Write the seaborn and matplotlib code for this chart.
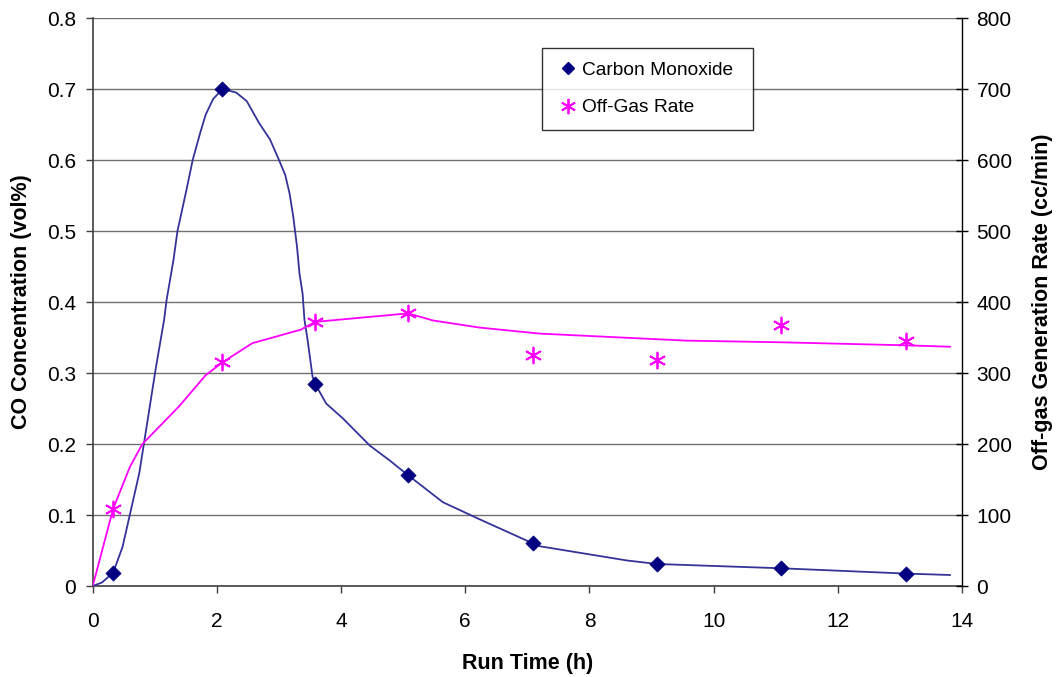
import matplotlib
matplotlib.use("Agg")
import matplotlib.pyplot as plt
from matplotlib.lines import Line2D
import seaborn as sns
import pandas as pd

# Sampled run times (h) and measurements
run_time = [0.33, 2.09, 3.58, 5.08, 7.09, 9.09, 11.08, 13.1]
co_conc = [0.019, 0.70, 0.285, 0.156, 0.060, 0.031, 0.025, 0.0175]
offgas_rate = [109, 315, 372, 384, 325, 319, 367, 345]

# Smoothed trend curve for CO concentration
co_curve_t = [0, 0.15, 0.33, 0.48, 0.75, 1.02, 1.15, 1.19, 1.30, 1.365, 1.51, 1.61, 1.73,
              1.82, 1.94, 2.09, 2.31, 2.48, 2.68, 2.855, 3.0, 3.10, 3.17, 3.23, 3.29, 3.33,
              3.38, 3.41, 3.46, 3.54, 3.58, 3.76, 4.03, 4.46, 4.78, 5.08, 5.64, 6.23, 7.09,
              7.2, 8.6, 9.09, 11.08, 13.1, 13.81]
co_curve_v = [0, 0.005, 0.019, 0.055, 0.159, 0.309, 0.375, 0.403, 0.459, 0.5, 0.558, 0.6, 0.638,
              0.664, 0.686, 0.70, 0.695, 0.683, 0.652, 0.629, 0.60, 0.579, 0.553, 0.52, 0.478, 0.44,
              0.412, 0.375, 0.347, 0.295, 0.285, 0.257, 0.236, 0.198, 0.177, 0.156, 0.118, 0.094, 0.060,
              0.056, 0.036, 0.031, 0.025, 0.0175, 0.0155]

# Smoothed trend curve for off-gas generation rate
gas_curve_t = [0, 0.33, 0.6, 0.8, 1.39, 1.82, 2.09, 2.57, 3.35, 3.58, 5.08, 5.48,
               6.23, 7.2, 9.56, 11.07, 13.1, 13.81]
gas_curve_v = [0, 109, 168, 200, 253, 297, 315, 342, 361, 372, 384, 374,
               364, 355.5, 345.6, 343.3, 339, 337]

x_ticks = [0, 2, 4, 6, 8, 10, 12, 14]
left_ticks = [0, 0.1, 0.2, 0.3, 0.4, 0.5, 0.6, 0.7, 0.8]
right_ticks = [0, 100, 200, 300, 400, 500, 600, 700, 800]

CO_LINE = "#333399"
CO_MARK = "#000080"
GAS = "#FF00FF"

sns.set_style("white")
plt.rcParams["font.family"] = ["Liberation Sans", "DejaVu Sans"]
plt.rcParams["text.color"] = "black"
plt.rcParams["axes.labelcolor"] = "black"

fig = plt.figure(figsize=(10.56, 6.77), dpi=100)
ax = fig.add_axes([0.0878, 0.1344, 0.9110 - 0.0878, 0.9734 - 0.1344])
ax2 = ax.twinx()

co_pts = pd.DataFrame({"t": run_time, "v": co_conc})
co_line = pd.DataFrame({"t": co_curve_t, "v": co_curve_v})
gas_pts = pd.DataFrame({"t": run_time, "v": offgas_rate})
gas_line = pd.DataFrame({"t": gas_curve_t, "v": gas_curve_v})

sns.lineplot(data=co_line, x="t", y="v", ax=ax, sort=False, estimator=None,
             color=CO_LINE, linewidth=1.3, zorder=3)
sns.scatterplot(data=co_pts, x="t", y="v", ax=ax, marker="D", s=60,
                color=CO_MARK, edgecolor=CO_MARK, linewidth=0.5, zorder=4)

sns.lineplot(data=gas_line, x="t", y="v", ax=ax2, sort=False, estimator=None,
             color=GAS, linewidth=1.3, zorder=3)
sns.scatterplot(data=gas_pts, x="t", y="v", ax=ax2, marker=(6, 2, 0), s=130,
                color=GAS, edgecolor=GAS, linewidth=1.3, zorder=4)

ax.set_xlim(0, 14)
ax.set_ylim(0, 0.8)
ax2.set_ylim(0, 800)
ax.set_xticks(x_ticks)
ax.set_xticklabels([str(v) for v in x_ticks])
ax.set_yticks(left_ticks)
ax.set_yticklabels(["0"] + [f"{v:.1f}" for v in left_ticks[1:]])
ax2.set_yticks(right_ticks)
ax2.set_yticklabels([str(v) for v in right_ticks])

ax.yaxis.grid(True, color="#707070", linewidth=1.0)
ax.xaxis.grid(False)
ax.set_axisbelow(True)

for a in (ax, ax2):
    a.spines["top"].set_visible(False)
ax.spines["right"].set_visible(False)
ax.spines["left"].set_color("#404040")
ax.spines["bottom"].set_color("#404040")
ax.spines["left"].set_linewidth(1.2)
ax.spines["bottom"].set_linewidth(1.2)
ax2.spines["left"].set_visible(False)
ax2.spines["bottom"].set_visible(False)
ax2.spines["right"].set_color("#000000")
ax2.spines["right"].set_linewidth(1.0)

ax.tick_params(axis="x", direction="out", length=5, width=1, color="#404040",
               labelsize=15, labelcolor="black", pad=14, bottom=True)
ax.tick_params(axis="y", direction="out", length=5, width=1, color="#404040",
               labelsize=15, labelcolor="black", pad=7, left=True)
ax2.tick_params(axis="y", direction="inout", length=9, width=1, color="#000000",
                labelsize=15, labelcolor="black", pad=6, right=True)

ax.set_xlabel("Run Time (h)", fontsize=15.5, fontweight="bold", color="black")
ax.set_ylabel("CO Concentration (vol%)", fontsize=15.5, fontweight="bold", color="black")
ax2.set_ylabel("Off-gas Generation Rate (cc/min)", fontsize=15.5, fontweight="bold",
               color="black")
ax.xaxis.set_label_coords(0.5, -0.118)
ax.yaxis.set_label_coords(-0.0698, 0.5)
ax2.yaxis.set_label_coords(1.0806, 0.5)

handles = [
    Line2D([], [], linestyle="none", marker="D", markersize=6.5,
           color=CO_MARK, label="Carbon Monoxide"),
    Line2D([], [], linestyle="none", marker=(6, 2, 0), markersize=11,
           markeredgewidth=1.3, color=GAS, label="Off-Gas Rate"),
]
leg = ax2.legend(handles=handles, loc="upper left", mode="expand",
                 bbox_to_anchor=(0.5165, 0.9467, 0.2427, 0.0),
                 frameon=True, fancybox=False, shadow=False, fontsize=13.8,
                 handlelength=1.35, handletextpad=0.05, borderpad=0.7,
                 labelspacing=1.03, borderaxespad=0, labelcolor="black")
leg.get_frame().set_edgecolor("#000000")
leg.get_frame().set_linewidth(1.0)
leg.get_frame().set_facecolor("white")
leg.set_zorder(10)

fig.savefig("out.png", dpi=100)
